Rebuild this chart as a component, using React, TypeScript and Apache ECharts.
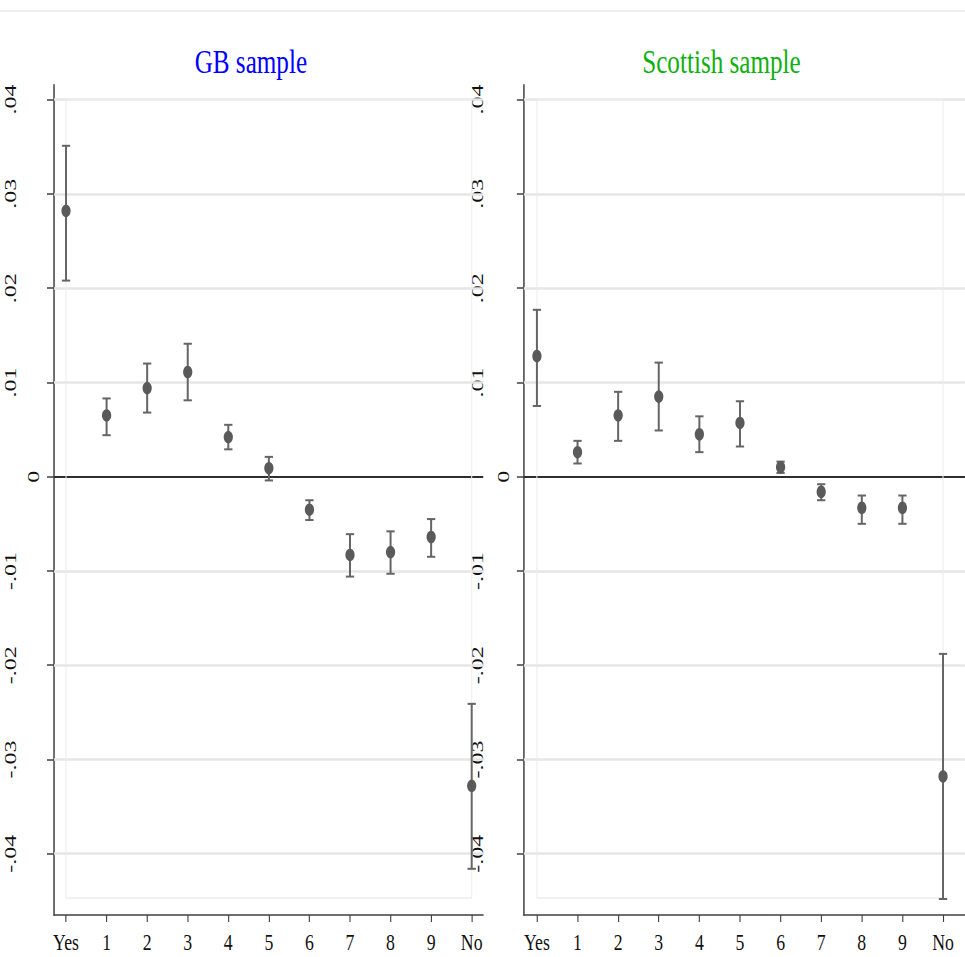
import React, { useEffect, useRef } from 'react';
import * as echarts from 'echarts';

// ---- data ----
const categories = ['Yes', '1', '2', '3', '4', '5', '6', '7', '8', '9', 'No'];
const xPositions = [0, 1, 2, 3, 4, 5, 6, 7, 8, 9, 10];
const yTicks = [-0.04, -0.03, -0.02, -0.01, 0, 0.01, 0.02, 0.03, 0.04];
const panelTitles = ['GB sample', 'Scottish sample'];

const gbMean = [0.0282, 0.0065, 0.0094, 0.0111, 0.0042, 0.0009, -0.0035, -0.0083, -0.008, -0.0064, -0.0328];
const gbUpper = [0.0351, 0.0083, 0.012, 0.0141, 0.0055, 0.0021, -0.0025, -0.0061, -0.0058, -0.0045, -0.0241];
const gbLower = [0.0208, 0.0044, 0.0068, 0.0081, 0.0029, -0.0004, -0.0046, -0.0106, -0.0103, -0.0085, -0.0416];

const scMean = [0.0128, 0.0026, 0.0065, 0.0085, 0.0045, 0.0057, 0.001, -0.0016, -0.0033, -0.0033, -0.0318];
const scUpper = [0.0177, 0.0038, 0.009, 0.0121, 0.0064, 0.008, 0.0016, -0.0008, -0.002, -0.002, -0.0188];
const scLower = [0.0075, 0.0014, 0.0038, 0.0049, 0.0026, 0.0032, 0.0004, -0.0025, -0.005, -0.005, -0.0448];

// plot-region box (data extent)
const boxTop = 0.04;
const boxBottom = -0.0447;

// ---- layout ----
const SQUEEZE = 0.74;
const W = Math.round(965 / SQUEEZE);
const H = 957;
const FONT = '"Liberation Serif", "Times New Roman", serif';
const AXIS_COLOR = '#3f3f3f';

function fmtY(v: number): string {
  if (Math.abs(v) < 1e-9) return '0';
  const s = Math.abs(v).toFixed(2).replace(/^0/, '');
  return (v < 0 ? '-' : '') + s;
}

function buildPanel(p: number, mean: number[], lower: number[], upper: number[]) {
  const xi = p;
  const yi = p * 2;
  const boxData = [
    [xPositions[0], boxTop],
    [xPositions[xPositions.length - 1], boxTop],
    [xPositions[xPositions.length - 1], boxBottom],
    [xPositions[0], boxBottom],
    [xPositions[0], boxTop],
  ];
  return [
    {
      type: 'line',
      xAxisIndex: xi,
      yAxisIndex: yi,
      data: boxData,
      symbol: 'none',
      silent: true,
      z: 1,
      lineStyle: { color: '#ededed', width: 1.4 },
      markLine: {
        z: 1,
        silent: true,
        symbol: ['none', 'none'],
        label: { show: false },
        data: yTicks.map((v) => ({
          yAxis: v,
          lineStyle:
            Math.abs(v) < 1e-9
              ? { color: '#2e2e2e', width: 2.2, type: 'solid' }
              : { color: '#e6e6e6', width: 2.6, type: 'solid' },
        })),
      },
    },
    {
      type: 'custom',
      xAxisIndex: xi,
      yAxisIndex: yi,
      z: 3,
      silent: true,
      encode: { x: 0, y: [1, 2] },
      data: xPositions.map((x, i) => [x, lower[i], upper[i]]),
      renderItem: (params: any, api: any) => {
        const x = api.value(0);
        const lo = api.value(1);
        const hi = api.value(2);
        const t = api.coord([x, hi]);
        const b = api.coord([x, lo]);
        const hw = 5.6;
        const stroke = '#656565';
        return {
          type: 'group',
          children: [
            { type: 'line', shape: { x1: t[0], y1: t[1], x2: b[0], y2: b[1] }, style: { stroke, lineWidth: 2.7 } },
            { type: 'line', shape: { x1: t[0] - hw, y1: t[1], x2: t[0] + hw, y2: t[1] }, style: { stroke, lineWidth: 2 } },
            { type: 'line', shape: { x1: b[0] - hw, y1: b[1], x2: b[0] + hw, y2: b[1] }, style: { stroke, lineWidth: 2 } },
          ],
        };
      },
    },
    {
      type: 'scatter',
      xAxisIndex: xi,
      yAxisIndex: yi,
      z: 4,
      symbol: 'circle',
      symbolSize: 12.5,
      itemStyle: { color: '#5a5a5a', opacity: 1 },
      data: xPositions.map((x, i) => [x, mean[i]]),
    },
  ];
}

function makeXAxis(gridIndex: number, min: number, max: number) {
  return {
    type: 'value',
    gridIndex,
    min,
    max,
    splitLine: { show: false },
    axisLine: { show: true, onZero: false, lineStyle: { color: AXIS_COLOR, width: 1.5 } },
    axisTick: { show: true, customValues: xPositions, length: 7, inside: false, lineStyle: { color: AXIS_COLOR, width: 1.5 } },
    axisLabel: {
      show: true,
      customValues: xPositions,
      margin: 15,
      fontSize: 24,
      fontFamily: FONT,
      color: '#111',
      formatter: (v: number) => categories[Math.round(v)] ?? '',
    },
  };
}

const Y_MIN = -0.0465;
const Y_MAX = 0.04155;

function makeYAxes(gridIndex: number, labelMargin: number) {
  return [
    {
      type: 'value',
      gridIndex,
      min: Y_MIN,
      max: Y_MAX,
      splitLine: { show: false },
      axisLine: { show: true, onZero: false, lineStyle: { color: AXIS_COLOR, width: 2 } },
      axisTick: { show: true, customValues: yTicks, length: 9.5, lineStyle: { color: AXIS_COLOR, width: 1.5 } },
      axisLabel: {
        show: true,
        customValues: yTicks.filter((v) => Math.abs(v) > 1e-9),
        rotate: 90,
        margin: labelMargin,
        fontSize: 24,
        lineHeight: 19,
        fontFamily: FONT,
        color: '#111',
        formatter: (v: number) => fmtY(v),
      },
    },
    {
      type: 'value',
      gridIndex,
      min: Y_MIN,
      max: Y_MAX,
      position: 'left',
      splitLine: { show: false },
      axisLine: { show: false, onZero: false },
      axisTick: { show: false },
      axisLabel: {
        show: true,
        customValues: yTicks.filter((v) => Math.abs(v) < 1e-9),
        rotate: 90,
        margin: 16,
        fontSize: 24,
        fontFamily: FONT,
        color: '#111',
        formatter: (v: number) => fmtY(v),
      },
    },
  ];
}

export default function App() {
  const ref = useRef<HTMLDivElement>(null);

  useEffect(() => {
    if (!ref.current) return;
    const chart = echarts.init(ref.current, undefined, { renderer: 'svg', width: W, height: H });
    const option: any = {
      animation: false,
      backgroundColor: '#ffffff',
      title: [
        {
          text: panelTitles[0],
          left: 339,
          top: 44,
          textAlign: 'center',
          padding: 0,
          textStyle: { color: '#0000ff', fontSize: 34, fontWeight: 'normal', fontFamily: FONT },
        },
        {
          text: panelTitles[1],
          left: 975,
          top: 44,
          textAlign: 'center',
          padding: 0,
          textStyle: { color: '#0fb00f', fontSize: 34, fontWeight: 'normal', fontFamily: FONT },
        },
      ],
      graphic: [
        {
          type: 'line',
          silent: true,
          shape: { x1: 0, y1: 11, x2: W, y2: 11 },
          style: { stroke: '#e8e8e8', lineWidth: 1.5 },
        },
      ],
      grid: [
        { left: 73, top: 85, width: 580, height: 830, containLabel: false, outerBoundsMode: 'none' },
        { left: 708, top: 85, width: W - 708, height: 830, containLabel: false, outerBoundsMode: 'none' },
      ],
      xAxis: [makeXAxis(0, -0.296, 10.284), makeXAxis(1, -0.32, 10.54)],
      yAxis: [...makeYAxes(0, 49.5), ...makeYAxes(1, 54)],
      series: [
        ...buildPanel(0, gbMean, gbLower, gbUpper),
        ...buildPanel(1, scMean, scLower, scUpper),
      ],
    };
    chart.setOption(option);
    return () => {
      chart.dispose();
    };
  }, []);

  return (
    <div
      style={{
        position: 'fixed',
        left: 0,
        top: 0,
        width: 965,
        height: 957,
        overflow: 'hidden',
        background: '#fff',
      }}
    >
      <div
        ref={ref}
        style={{ width: W, height: H, transform: `scaleX(${SQUEEZE})`, transformOrigin: '0 0' }}
      />
    </div>
  );
}
